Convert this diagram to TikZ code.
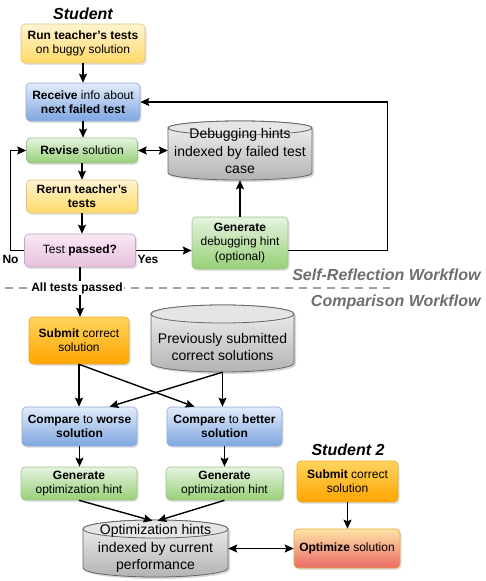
\documentclass[tikz,border=0pt]{standalone}
\usepackage{fontspec}
\setmainfont{Liberation Sans}
\usetikzlibrary{arrows.meta,shadows,calc}
\definecolor{yTop}{HTML}{FFF4D4}\definecolor{yBot}{HTML}{FFD966}\definecolor{yDr}{HTML}{E0C478}
\definecolor{bTop}{HTML}{E2ECFB}\definecolor{bBot}{HTML}{7EA6E0}\definecolor{bDr}{HTML}{8FA9D3}
\definecolor{gTop}{HTML}{E6F3E0}\definecolor{gBot}{HTML}{97D077}\definecolor{gDr}{HTML}{9CC28A}
\definecolor{pTop}{HTML}{F8E8F4}\definecolor{pBot}{HTML}{E8C0DF}\definecolor{pDr}{HTML}{C4A6BE}
\definecolor{oTop}{HTML}{FFD45E}\definecolor{oBot}{HTML}{FFA500}\definecolor{oDr}{HTML}{E0A830}
\definecolor{rTop}{HTML}{FFE2A6}\definecolor{rMid}{HTML}{F6A944}\definecolor{rBot}{HTML}{EA6B66}
\definecolor{cTop}{HTML}{F2F2F2}\definecolor{cBot}{HTML}{B3B3B3}\definecolor{cDr}{HTML}{666666}
\definecolor{wfGray}{HTML}{6E6E6E}\definecolor{dashGray}{HTML}{A0A0A0}
\newcommand\boxfont{\fontsize{12}{14.4}\selectfont}
\newcommand\cylfont{\fontsize{14}{17.5}\selectfont}
\newcommand\dbcyl[8]{%
  \pgfmathsetmacro\cxx{(#2+#4)/2}\pgfmathsetmacro\rxx{(#4-#2)/2}%
  \fill[black,opacity=0.15] (#2+2,#3+#6+2) -- (#2+2,#5-#6+2) arc[start angle=180,end angle=0,x radius=\rxx,y radius=#6] -- (#4+2,#3+#6+2) arc[start angle=0,end angle=-180,x radius=\rxx,y radius=#6] -- cycle;
  \path[draw=cDr,line width=0.8pt,top color=cTop,bottom color=cBot] (#2,#3+#6) -- (#2,#5-#6) arc[start angle=180,end angle=0,x radius=\rxx,y radius=#6] -- (#4,#3+#6) arc[start angle=0,end angle=-180,x radius=\rxx,y radius=#6] -- cycle;
  \draw[cDr,line width=0.8pt,fill=cTop!80!cBot] (\cxx,#3+#6) ellipse[x radius=\rxx,y radius=#6];
  \node[inner sep=0pt,minimum width=#4pt-#2pt,minimum height=#5pt-#3pt] (#1) at (\cxx,{(#3+#5)/2}) {};
  \node[align=center,font=\cylfont,inner sep=0pt] (#1t) at (\cxx,#7) {#8};
}
\begin{document}
\begin{tikzpicture}[x=1pt,y=-1pt,
  box/.style={rounded corners=4pt,draw,line width=0.6pt,align=center,font=\boxfont,inner sep=1pt,
    drop shadow={shadow xshift=1.5pt,shadow yshift=-1.8pt,opacity=0.22}},
  sz/.style 2 args={minimum width=#1pt,minimum height=#2pt},
  ybox/.style={top color=yTop,bottom color=yBot,draw=yDr},
  bbox/.style={top color=bTop,bottom color=bBot,draw=bDr},
  gbox/.style={top color=gTop,bottom color=gBot,draw=gDr},
  pbox/.style={top color=pTop,bottom color=pBot,draw=pDr},
  obox/.style={top color=oTop,bottom color=oBot,draw=oDr},
  rbox/.style={top color=rTop,middle color=rMid,bottom color=rBot,draw=oDr},
  arr/.style={-{Stealth[length=9pt,width=8pt,inset=1.5pt]},line width=1.4pt},
  arrb/.style={{Stealth[length=9pt,width=8pt,inset=1.5pt]}-{Stealth[length=9pt,width=8pt,inset=1.5pt]},line width=1.4pt},
  title/.style={font=\fontsize{16}{19}\selectfont\bfseries\itshape},
  wf/.style={font=\fontsize{16}{19}\selectfont\bfseries\itshape,text=wfGray},
  lbl/.style={font=\fontsize{12}{14}\selectfont\bfseries,inner sep=1pt}]
\useasboundingbox[fill=white] (0,0) rectangle (485,581);

% titles
\node[title] (stu) at (83,14) {Student};
\node[title] (stu2) at (348,450) {Student 2};
\node[wf,anchor=east] (wf1) at (484,275) {Self-Reflection Workflow};
\node[wf,anchor=east] (wf2) at (484,302) {Comparison Workflow};

% self-reflection boxes
\node[box,ybox,sz={124}{39}] (run) at (83,43.5) {\textbf{Run teacher's tests}\\on buggy solution};
\node[box,bbox,sz={114}{38}] (recv) at (83,102) {\textbf{Receive} info about\\\textbf{next failed test}};
\node[box,gbox,sz={111}{25}] (rev) at (82,150.5) {\textbf{Revise} solution};
\node[box,ybox,sz={111}{33}] (rer) at (82,196.5) {\textbf{Rerun teacher's}\\\textbf{tests}};
\node[box,pbox,sz={111}{33}] (tp) at (80,250.5) {Test \textbf{passed?}};
\node[box,gbox,sz={96}{52}] (gen) at (240,243) {\textbf{Generate}\\debugging hint\\(optional)};
\dbcyl{db1}{168}{121}{312}{180}{7}{151}{Debugging hints\\indexed by failed test\\case}

% comparison boxes
\node[box,obox,sz={100}{47}] (sub) at (79,340.5) {\textbf{Submit} correct\\solution};
\dbcyl{db2}{151}{305}{294}{372}{9}{347}{Previously submitted\\correct solutions}
\node[box,bbox,sz={115}{39}] (cw) at (79.5,426.5) {\textbf{Compare} to \textbf{worse}\\\textbf{solution}};
\node[box,bbox,sz={115}{39}] (cb) at (224.5,426.5) {\textbf{Compare} to \textbf{better}\\\textbf{solution}};
\node[box,gbox,sz={116}{33}] (g1) at (79,483.5) {\textbf{Generate}\\optimization hint};
\node[box,gbox,sz={117}{33}] (g2) at (224.5,483.5) {\textbf{Generate}\\optimization hint};
\dbcyl{db3}{83}{520}{228}{577}{9}{548.5}{Optimization hints\\indexed by current\\performance}
\node[box,obox,sz={101}{41}] (sub2) at (347.5,481.5) {\textbf{Submit} correct\\solution};
\node[box,rbox,sz={106}{39}] (opt) at (347,548.5) {\textbf{Optimize} solution};

% dashed separator
\draw[dashGray,line width=2pt,dash pattern=on 8pt off 6pt] (5,288) -- (390,288);

% self-reflection connectors
\draw[arr] (run) -- (recv);
\draw[arr] (recv.south) -- (recv.south |- rev.north);
\draw[arr] (rev.south) -- (rev.south |- rer.north);
\draw[arr] (rer.south) -- (rer.south |- tp.north);
\draw[arrb] (rev.east) -- (rev.east -| db1.west);
\draw[arr] (tp.west) -- ++(-14,0) |- (rev.west);
\draw[arr] (tp.east) -- (tp.east -| gen.west);
\draw[arr] (gen.north) -- (db1.south);
\draw[arr] (gen.east |- tp.east) -- ++(99,0) |- (recv.east);
\node[lbl] (no) at (10.5,259) {No};
\node[lbl] (yes) at (148,259) {Yes};
\draw[arr] (tp.south) -- (tp.south |- sub.north);
\node[lbl,fill=white] (atp) at (77,288) {All tests passed};

% comparison connectors
\draw[arr] (sub.south) -- (sub.south |- cw.north);
\draw[arr] (sub.south) -- ($(cb.north)+(-30,0)$);
\draw[arr] (db2.south) -- ($(cw.north)+(30,0)$);
\draw[arr] (db2.south) -- (db2.south |- cb.north);
\draw[arr] (cw.south) -- (cw.south |- g1.north);
\draw[arr] (cb.south) -- (cb.south |- g2.north);
\draw[arr] (g1.south) -- ($(db3.north)+(-3,1)$);
\draw[arr] (g2.south) -- ($(db3.north)+(2,1)$);
\draw[arr] (sub2.south) -- (sub2.south |- opt.north);
\draw[arrb] (db3.east) -- (opt.west);
\end{tikzpicture}
\end{document}
